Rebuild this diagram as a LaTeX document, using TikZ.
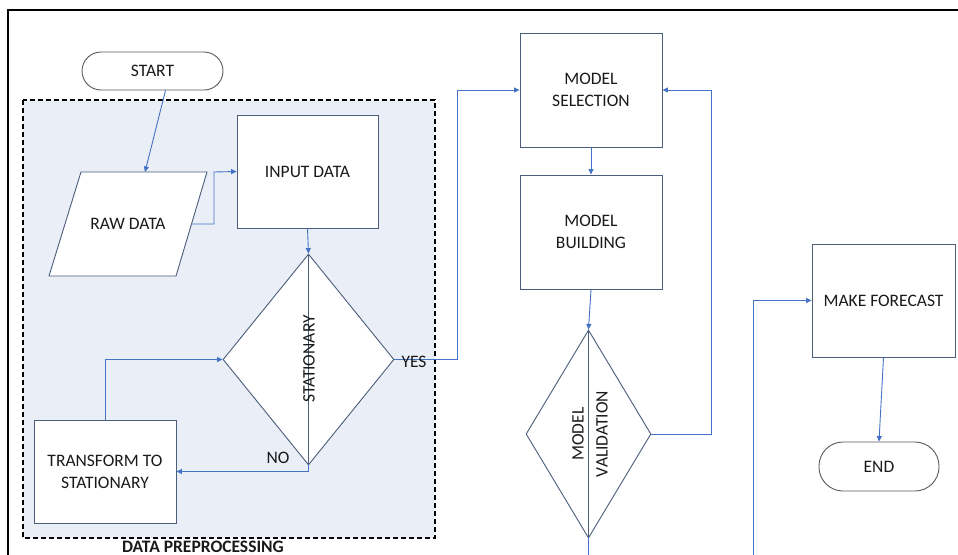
\documentclass[tikz,border=0pt]{standalone}
\usepackage{fontspec}
\setmainfont{Carlito}
\usetikzlibrary{shapes.geometric,arrows.meta,calc}

\definecolor{boxline}{HTML}{4A5D7A}
\definecolor{flow}{HTML}{4472C4}
\definecolor{pillline}{HTML}{5A5A5A}
\definecolor{groupfill}{HTML}{E9EEF7}
\definecolor{ink}{HTML}{1A1A1A}

\tikzset{
  every node/.style={font=\fontsize{17.5}{22}\selectfont, text=ink},
  procbox/.style={draw=boxline, line width=0.9pt, fill=white, rectangle,
    inner sep=0pt, align=center},
  pill/.style={draw=pillline, line width=0.9pt, fill=white, rectangle,
    inner sep=0pt},
  decision/.style={draw=boxline, line width=0.9pt, fill=white, diamond,
    inner sep=0pt},
  flowline/.style={draw=flow, line width=0.9pt},
  flowarrow/.style={flowline, -{Triangle[length=5.5pt,width=5pt]}},
  spine/.style={draw=boxline, line width=0.9pt},
}

\begin{document}
\begin{tikzpicture}[x=1pt, y=-1pt]
  \useasboundingbox (0,0) rectangle (958,554);

  % outer frame (top and left edges)
  \draw[line width=2pt, black] (8,556) -- (8,10) -- (960,10);

  % data preprocessing group
  \draw[fill=groupfill, draw=black, line width=1.2pt,
        dash pattern=on 5pt off 3pt] (23,100) rectangle (435,538);
  \node[font=\bfseries\fontsize{17.5}{22}\selectfont, anchor=center]
        (grouplabel) at (203,547) {DATA PREPROCESSING};

  % terminals
  \node[pill, rounded corners=19pt, minimum width=141pt, minimum height=38pt]
        (start) at (152.5,71) {START};
  \node[pill, rounded corners=24pt, minimum width=120pt, minimum height=49pt]
        (finish) at (879,466.5) {END};

  % raw data (parallelogram)
  \coordinate (rawTL) at (81,172);
  \coordinate (rawTR) at (207,172);
  \coordinate (rawBR) at (176,276);
  \coordinate (rawBL) at (49,276);
  \draw[draw=boxline, line width=0.9pt, fill=white]
        (rawTL) -- (rawTR) -- (rawBR) -- (rawBL) -- cycle;
  \node (raw) at (128,224) {RAW DATA};
  \coordinate (rawIn) at (145,172);
  \coordinate (rawOut) at (191.5,224);

  % process boxes
  \node[procbox, minimum width=141pt, minimum height=113pt]
        (input) at (307.5,171.5) {INPUT DATA};
  \node[procbox, minimum width=142pt, minimum height=103pt]
        (transform) at (105,471.5) {TRANSFORM TO\\STATIONARY};
  \node[procbox, minimum width=142pt, minimum height=114pt]
        (msel) at (591,90) {MODEL\\SELECTION};
  \node[procbox, minimum width=142pt, minimum height=114pt]
        (mbuild) at (591,232) {MODEL\\BUILDING};
  \node[procbox, minimum width=143pt, minimum height=113pt]
        (forecast) at (883.5,300.5) {MAKE FORECAST};

  % decisions
  \node[decision, minimum width=171pt, minimum height=211pt]
        (stat) at (308.5,359.5) {};
  \draw[spine] (stat.north) -- (stat.south);
  \node[rotate=90] (statlabel) at (309,359) {STATIONARY};

  \node[decision, minimum width=125pt, minimum height=208pt]
        (mval) at (588.5,434) {};
  \draw[spine] (mval.north) -- (mval.south);
  \node[rotate=90, align=center, font=\fontsize{17.5}{24}\selectfont]
        (mvallabel) at (590,434) {MODEL\\VALIDATION};

  % connectors
  \draw[flowarrow] ($(start.south)+(13,0)$) -- (rawIn);
  \draw[flowarrow] (rawOut) -- (214,224) -- (214,172) -- (input.west);
  \draw[flowarrow] (input.south) -- (stat.north);

  \coordinate (yesTurn) at (457,359.5);
  \draw[flowarrow] (stat.east) -- (yesTurn) |- (msel.west);
  \node[anchor=center] (yes) at (414,361.5) {YES};

  \coordinate (noTurn) at (308.5,471.5);
  \draw[flowarrow] (stat.south) -- (noTurn) -- (transform.east);
  \node[anchor=center] (no) at (278,457.5) {NO};

  \draw[flowarrow] (transform.north) |- (stat.west);

  \draw[flowarrow] (msel.south) -- (mbuild.north);
  \draw[flowarrow] (mbuild.south) -- (mval.north);

  \coordinate (retTurn) at (711,434);
  \draw[flowarrow] (mval.east) -- (retTurn) |- (msel.east);

  \coordinate (mvalExit) at (588.5,556);
  \draw[flowline] (mval.south) -- (mvalExit);

  \coordinate (fcEntry) at (753,556);
  \draw[flowarrow] (fcEntry) |- (forecast.west);

  \draw[flowarrow] (forecast.south) -- (finish.north);
\end{tikzpicture}
\end{document}
